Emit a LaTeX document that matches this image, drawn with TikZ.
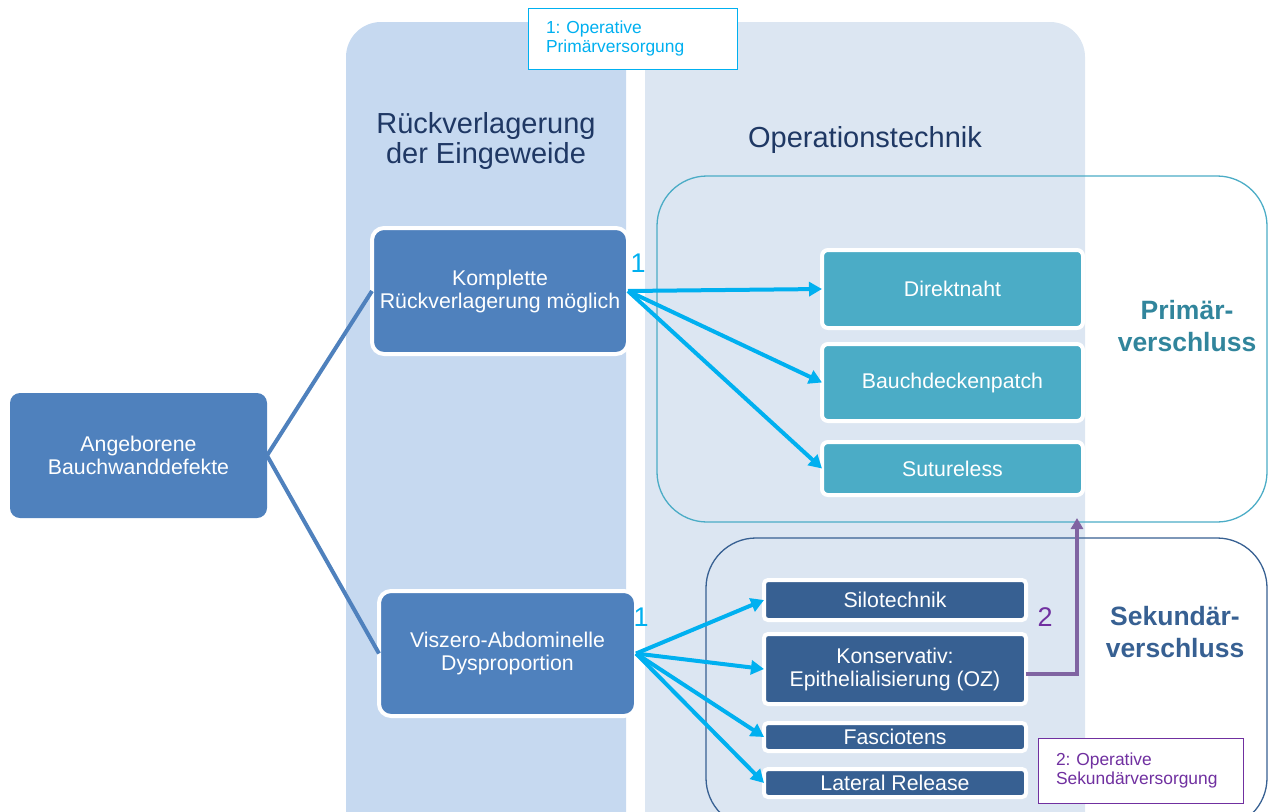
\documentclass[tikz,border=0pt]{standalone}
\usepackage{fontspec}
\setmainfont{Liberation Sans}
\usetikzlibrary{arrows.meta,calc}
\definecolor{colbgA}{HTML}{C6D9F0}
\definecolor{colbgB}{HTML}{DCE6F2}
\definecolor{boxblue}{HTML}{4F81BD}
\definecolor{boxteal}{HTML}{4BACC6}
\definecolor{boxdark}{HTML}{376092}
\definecolor{headtxt}{HTML}{1F3864}
\definecolor{primtxt}{HTML}{31859C}
\definecolor{sektxt}{HTML}{376092}
\definecolor{arrcyan}{HTML}{00B0F0}
\definecolor{arrpurple}{HTML}{8064A2}
\definecolor{txtpurple}{HTML}{7030A0}
\frenchspacing
\begin{document}
\begin{tikzpicture}[x=1pt,y=-1pt,
  every node/.style={inner sep=2pt, outer sep=0pt},
  mainbox/.style={fill=boxblue, draw=white, line width=4pt, rounded corners=12pt,
    text=white, align=center, font=\fontsize{21.3}{23}\selectfont, minimum width=257pt, minimum height=125pt},
  tealbox/.style={fill=boxteal, draw=white, line width=4pt, rounded corners=6pt,
    text=white, align=center, font=\fontsize{21.3}{23}\selectfont, minimum width=261pt},
  darkbox/.style={fill=boxdark, draw=white, line width=4pt, rounded corners=4pt,
    text=white, align=center, font=\fontsize{21.3}{23}\selectfont, minimum width=262pt},
  groupbox/.style={draw, line width=1.3pt, rounded corners=50pt},
  legend/.style={draw, fill=white, line width=1pt, align=left,
    font=\fontsize{17.4}{19.5}\selectfont},
  fork/.style={draw=boxblue, line width=4pt},
  cyanarrow/.style={draw=arrcyan, line width=4pt, -{Triangle[length=13pt,width=14pt]}},
  purplearrow/.style={draw=arrpurple, line width=4.5pt, -{Triangle[length=11pt,width=12pt]}},
  header/.style={text=headtxt, align=center, font=\fontsize{29}{31}\selectfont},
  grouplabel/.style={align=center, font=\bfseries\fontsize{26.5}{32}\selectfont},
  num/.style={font=\fontsize{27}{30}\selectfont}
]
\useasboundingbox (0,0) rectangle (1271,811);
\clip (0,0) rectangle (1271,811);

% column backgrounds
\fill[colbgA, rounded corners=35pt] (346,22) rectangle (626,850);
\fill[colbgB, rounded corners=35pt] (645,22) rectangle (1085,850);

% column headers
\node[header] (h1) at (486,141) {Rückverlagerung\\der Eingeweide};
\node[header] (h2) at (865,140) {Operationstechnik};

% closure groups
\node[groupbox, draw=boxteal, minimum width=610pt, minimum height=346pt] (prim) at (962,349) {};
\node[groupbox, draw=sektxt, minimum width=561pt, minimum height=290pt] (sek) at (986.5,683) {};
\node[grouplabel, text=primtxt] (primlbl) at (1187,326) {Primär-\\verschluss};
\node[grouplabel, text=sektxt] (seklbl) at (1175,632) {Sekundär-\\verschluss};

% legends
\node[legend, draw=arrcyan, text=arrcyan, minimum width=209pt, minimum height=61pt,
  text width=173pt] (leg1) at (632.5,38.5) {1: Operative\\Primärversorgung};
\node[legend, draw=txtpurple, text=txtpurple, minimum width=205pt, minimum height=65pt,
  text width=169pt] (leg2) at (1140.5,770.5) {2: Operative\\Sekundärversorgung};

% main nodes
\node[mainbox, draw=none, rounded corners=10pt] (ang) at (138.5,455.5) {Angeborene\\Bauchwanddefekte};
\node[mainbox, minimum width=256pt, minimum height=126pt] (komp) at (500,291) {Komplette\\Rückverlagerung möglich};
\node[mainbox] (visz) at (507.5,653.5) {Viszero-Abdominelle\\Dysproportion};

% primary techniques
\node[tealbox, minimum height=78pt] (dir) at (952.5,289) {Direktnaht};
\node[tealbox, minimum height=77pt] (patch) at (952.5,382.5) {Bauchdeckenpatch};
\node[tealbox, minimum height=53pt] (sut) at (952.5,468.5) {Sutureless};

% secondary techniques
\node[darkbox, minimum height=40pt] (silo) at (895,600) {Silotechnik};
\node[darkbox, minimum height=70pt] (kons) at (895,669) {Konservativ:\\Epithelialisierung (OZ)};
\node[darkbox, minimum height=28pt, inner sep=0pt] (fasc) at (895,737) {Fasciotens};
\node[darkbox, minimum height=28pt, inner sep=0pt] (lat) at (895,783) {Lateral Release};

% fork from the root
\draw[fork] (ang.east) -- (komp.west);
\draw[fork] (ang.east) -- (visz.west);

% primary closure arrows
\draw[cyanarrow] (komp.east) -- (dir.west);
\draw[cyanarrow] (komp.east) -- (patch.west);
\draw[cyanarrow] (komp.east) -- (sut.west);

% secondary closure arrows
\draw[cyanarrow] (visz.east) -- (silo.west);
\draw[cyanarrow] (visz.east) -- (kons.west);
\draw[cyanarrow] (visz.east) -- (fasc.west);
\draw[cyanarrow] (visz.east) -- (lat.west);

% conversion to primary closure
\coordinate (pa) at (1077,518);
\draw[purplearrow] ([yshift=-5pt]kons.east) -| (pa);

% step numbers
\node[num, text=arrcyan] (n1a) at (638,263) {1};
\node[num, text=arrcyan] (n1b) at (641,617) {1};
\node[num, text=txtpurple] (n2) at (1045,617) {2};
\end{tikzpicture}
\end{document}
